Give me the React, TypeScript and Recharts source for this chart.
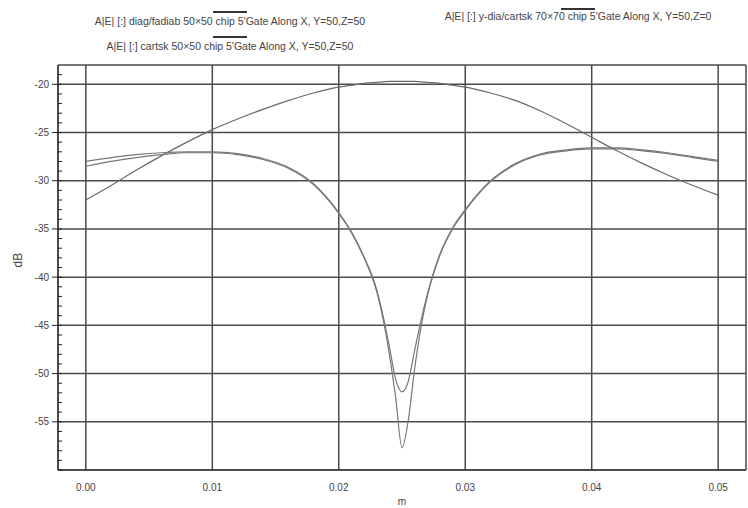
import { LineChart, Line, XAxis, YAxis, CartesianGrid } from 'recharts';

// x positions along the line (m)
const xValues = [
  0, 0.002, 0.004, 0.006, 0.008, 0.01, 0.012, 0.014, 0.016, 0.018, 0.02, 0.021, 0.022, 0.023,
  0.0235, 0.024, 0.0245, 0.025, 0.0255, 0.026, 0.0265, 0.027, 0.028, 0.029, 0.03, 0.032, 0.034,
  0.036, 0.038, 0.04, 0.042, 0.044, 0.046, 0.048, 0.05,
];

// diagonal radiator (broad arch)
const archDb = [
  -32.0, -30.5, -28.9, -27.4, -26.0, -24.7, -23.6, -22.6, -21.7, -20.9, -20.3, -20.1, -19.9, -19.8,
  -19.75, -19.7, -19.7, -19.7, -19.7, -19.7, -19.75, -19.8, -19.9, -20.1, -20.3, -20.9, -21.7,
  -22.8, -24.1, -25.5, -26.9, -28.2, -29.4, -30.5, -31.5,
];

// cartesian radiator, shallow null
const dipUpperDb = [
  -28.0, -27.6, -27.3, -27.1, -27.0, -27.0, -27.2, -27.7, -28.6, -30.3, -33.3, -35.3, -37.9, -41.3,
  -44.0, -47.2, -50.6, -51.9, -50.8, -47.6, -44.5, -41.8, -37.6, -34.9, -33.0, -30.0, -28.2,
  -27.2, -26.8, -26.6, -26.6, -26.8, -27.1, -27.5, -27.9,
];

// cartesian radiator, deep null
const dipLowerDb = [
  -28.5, -28.0, -27.6, -27.3, -27.1, -27.1, -27.3, -27.8, -28.7, -30.4, -33.4, -35.4, -38.0, -41.5,
  -44.3, -48.0, -52.5, -57.7, -54.8, -49.5, -45.2, -42.0, -37.7, -35.0, -33.1, -30.1, -28.3,
  -27.3, -26.9, -26.7, -26.7, -26.9, -27.2, -27.6, -28.0,
];

const xTicks = [0, 0.01, 0.02, 0.03, 0.04, 0.05];
const yTicks = [-55, -50, -45, -40, -35, -30, -25, -20];
const yMinorTicks = Array.from({ length: 42 }, (_, i) => -60 + i);

const legendLabels = [
  "A|E| [:] diag/fadiab 50×50 chip 5'Gate Along X, Y=50,Z=50",
  "A|E| [:] y-dia/cartsk 70×70 chip 5'Gate Along X, Y=50,Z=0",
  "A|E| [:] cartsk 50×50 chip 5'Gate Along X, Y=50,Z=50",
];

const data = xValues.map((x, i) => ({
  x,
  arch: archDb[i],
  upper: dipUpperDb[i],
  lower: dipLowerDb[i],
}));

const FONT = '"Liberation Sans", Arial, sans-serif';
const GRID = '#4a4a4a';

const legendPos = [
  { cx: 230, lineY: 11, textY: 15 },
  { cx: 578, lineY: 8, textY: 10 },
  { cx: 230, lineY: 36, textY: 40 },
];

const TopLegend = () => (
  <>
    {legendLabels.map((label, i) => (
      <div key={label}>
        <div
          style={{
            position: 'absolute',
            left: legendPos[i].cx - 17,
            top: legendPos[i].lineY,
            width: 34,
            height: 2,
            background: '#333',
          }}
        />
        <div
          style={{
            position: 'absolute',
            left: legendPos[i].cx - 170,
            top: legendPos[i].textY,
            width: 340,
            textAlign: 'center',
            fontSize: 10.5,
            color: '#444',
            fontFamily: FONT,
            whiteSpace: 'nowrap',
          }}
        >
          {label}
        </div>
      </div>
    ))}
  </>
);

export default function App() {
  return (
    <div style={{ position: 'relative', width: 748, height: 508, background: '#fff' }}>
      <style>{`body{margin:0}`}</style>
      <TopLegend />
      <LineChart
        width={748}
        height={508}
        data={data}
        margin={{ top: 65, right: 2, bottom: 0, left: 0 }}
      >
        <CartesianGrid stroke={GRID} strokeWidth={1.5} horizontal vertical />
        <XAxis
          dataKey="x"
          type="number"
          domain={[-0.0022, 0.0522]}
          ticks={xTicks}
          interval={0}
          allowDataOverflow
          tickFormatter={(v: number) => v.toFixed(2)}
          tick={{ fontSize: 10, fill: '#444', fontFamily: FONT }}
          stroke="#222"
          tickSize={0}
          tickMargin={14}
          height={38}
          label={{ value: 'm', position: 'insideBottom', offset: 3, fontSize: 10, fill: '#444', fontFamily: FONT }}
        />
        <XAxis xAxisId="top" orientation="top" dataKey="x" type="number" domain={[-0.0022, 0.0522]} tick={false} height={0} stroke="#222" />
        <YAxis
          type="number"
          domain={[-60, -18]}
          ticks={yTicks}
          interval={0}
          allowDataOverflow
          tick={{ fontSize: 10, fill: '#444', fontFamily: FONT }}
          stroke="#222"
          tickSize={6}
          tickMargin={3}
          width={58}
          label={{ value: 'dB', angle: -90, position: 'insideLeft', offset: 18, fontSize: 12, fill: '#444', fontFamily: FONT }}
        />
        <YAxis
          yAxisId="minor"
          type="number"
          domain={[-60, -18]}
          ticks={yMinorTicks}
          interval={0}
          allowDataOverflow
          mirror
          axisLine={false}
          tick={() => <g />}
          tickSize={4}
          stroke="#222"
        />
        <Line type="monotone" dataKey="arch" stroke="#6a6a6a" strokeWidth={1.2} dot={false} isAnimationActive={false} />
        <Line type="monotone" dataKey="upper" stroke="#777" strokeWidth={1.2} dot={false} isAnimationActive={false} />
        <Line type="monotone" dataKey="lower" stroke="#777" strokeWidth={1.2} dot={false} isAnimationActive={false} />
      </LineChart>
    </div>
  );
}
